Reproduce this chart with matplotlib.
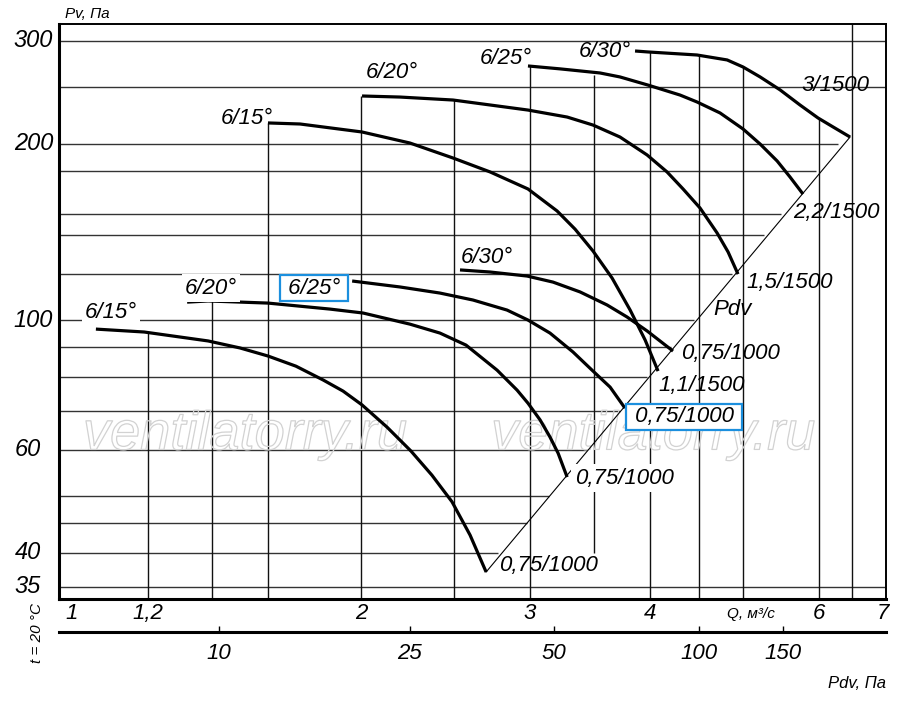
import numpy as np
import matplotlib
matplotlib.use('Agg')
import matplotlib.pyplot as plt
import matplotlib.patheffects as pe

plt.rcParams['font.family'] = ['Liberation Sans', 'DejaVu Sans']
plt.rcParams['font.style'] = 'italic'

# fan curves: Q (m3/s) and Pv (Pa)
q_15_1000 = [1.059, 1.189, 1.386, 1.496, 1.600, 1.711, 1.826, 1.916, 2.005, 2.129,
             2.255, 2.371, 2.488, 2.598, 2.700]
p_15_1000 = [96.5, 95.4, 92.1, 89.6, 86.8, 83.4, 79.0, 75.6, 71.6, 65.6,
             59.7, 54.3, 48.9, 42.9, 37.1]
q_20_1000 = [1.318, 1.386, 1.600, 1.857, 2.010, 2.249, 2.417, 2.573, 2.772, 2.908,
             2.985, 3.073, 3.147, 3.209, 3.279]
p_20_1000 = [107.3, 107.8, 106.9, 104.4, 102.8, 98.4, 95.0, 90.6, 82.1, 75.9,
             72.1, 67.5, 63.1, 59.2, 53.9]
q_25_1000 = [1.958, 2.196, 2.417, 2.616, 2.839, 2.985, 3.147, 3.325, 3.489, 3.635, 3.767]
p_25_1000 = [116.6, 113.9, 111.2, 108.2, 104.0, 100.0, 95.0, 88.2, 81.8, 76.8, 70.7]
q_30_1000 = [2.536, 2.726, 2.979, 3.170, 3.382, 3.609, 3.786, 3.972, 4.227]
p_30_1000 = [121.8, 120.8, 118.9, 116.1, 111.7, 106.1, 101.2, 95.8, 88.5]
q_15_1500 = [1.600, 1.728, 2.005, 2.249, 2.494, 2.726, 2.985, 3.201, 3.342, 3.489,
             3.652, 3.814, 3.954, 4.078]
p_15_1500 = [217.2, 216.3, 209.6, 200.7, 189.2, 179.1, 167.5, 153.6, 143.0, 131.2,
             118.0, 104.0, 92.4, 81.8]
q_20_1500 = [2.005, 2.196, 2.494, 2.985, 3.279, 3.489, 3.722, 3.972, 4.167, 4.330,
             4.510, 4.698, 4.824, 4.940]
p_20_1500 = [241.5, 240.5, 237.7, 228.5, 222.3, 215.4, 205.5, 191.5, 179.1, 167.5,
             155.4, 140.9, 130.7, 119.8]
q_25_1500 = [2.985, 3.224, 3.548, 3.722, 3.981, 4.299, 4.477, 4.732, 5.000, 5.209,
             5.426, 5.596, 5.773]
p_25_1500 = [271.8, 268.7, 264.4, 260.3, 252.1, 242.4, 235.9, 225.9, 212.1, 199.9,
             187.0, 175.6, 164.2]
q_30_1500 = [3.859, 3.981, 4.477, 4.813, 5.000, 5.209, 5.464, 5.732, 5.985, 6.205, 6.463]
p_30_1500 = [288.3, 287.2, 283.8, 278.3, 270.7, 260.3, 247.4, 233.1, 221.5, 213.8, 205.5]

# Pdv line end points
pdv_q = [2.70, 6.463]
pdv_p = [37.1, 205.5]

# grid (only inside the working field)
h_grid_p = [35, 40, 45, 50, 60, 70, 80, 90, 100, 120, 140, 152, 180, 200, 250, 300]
h_grid_q_end = [7.1, 2.78, 2.98, 3.14, 3.44, 3.72, 3.97, 4.21, 4.44, 4.87, 5.26, 5.48, 5.96, 6.28, 7.1, 7.1]
v_grid_q = [1.2, 1.4, 1.6, 2.0, 2.5, 3.0, 3.5, 4.0, 4.5, 5.0, 6.0, 6.5]
v_grid_p_top = [95.3, 107.8, 217.2, 241.5, 237.7, 271.8, 262.4, 287.2, 283.8, 270.7, 221.5, 330]
v_grid_p_bot = [33, 33, 33, 33, 33, 33, 40, 33, 33, 33, 33, 33]

# axis ticks
q_ticks = [1, 1.2, 2, 3, 4, 6, 7]
q_tick_labels = ['1', '1,2', '2', '3', '4', '6', '7']
p_ticks = [300, 200, 100, 60, 40, 35]
pdv_ticks = [10, 25, 50, 100, 150]
pdv_k = 4.95  # Pdv = k * Q^2 for the lower scale

# curve labels: text, Q, P, white backing
curve_labels = [
    ('6/15°', 1.098, 103.2, True),
    ('6/20°', 1.396, 113.4, True),
    ('6/30°', 2.706, 128.1, False),
    ('6/15°', 1.522, 220.6, False),
    ('6/20°', 2.154, 265.4, False),
    ('6/25°', 2.832, 280.4, False),
    ('6/30°', 3.591, 287.2, False),
    ('3/1500', 6.235, 252.1, False),
    ('2,2/1500', 6.250, 152.4, False),
    ('1,5/1500', 5.596, 115.7, False),
    ('Pdv', 4.881, 104.4, False),
    ('0,75/1000', 4.847, 87.8, False),
    ('1,1/1500', 4.532, 77.4, False),
    ('0,75/1000', 3.758, 53.7, True),
    ('0,75/1000', 3.132, 38.0, False),
]
boxed_labels = [
    ('6/25°', 1.787, 113.4),
    ('0,75/1000', 4.341, 68.3),
]
watermark_q = [1.514, 4.03]
watermark_p = 63.5

fig = plt.figure(figsize=(9, 7.04), dpi=100)
ax = fig.add_axes([59 / 900, 105 / 704, 827 / 900, 575 / 704])
ax.set_xscale('log')
ax.set_yscale('log')
xlim = (0.9693, 7.045)
ax.set_xlim(*xlim)
ax.set_ylim(33.36, 320.6)

ax.hlines(h_grid_p, xlim[0], h_grid_q_end, color='#333333', lw=1.0, zorder=1)
ax.vlines(v_grid_q, v_grid_p_bot, v_grid_p_top, color='#111111', lw=1.0, zorder=1)

for qw in watermark_q:
    ax.text(qw, watermark_p, 'ventilatorry.ru', fontsize=39, color='none',
            ha='center', va='center', zorder=2,
            path_effects=[pe.Stroke(linewidth=0.9, foreground='#d2d2d2')])

ax.plot(pdv_q, pdv_p, color='black', lw=0.8, zorder=3)

curves = [(q_15_1000, p_15_1000), (q_20_1000, p_20_1000), (q_25_1000, p_25_1000),
          (q_30_1000, p_30_1000), (q_15_1500, p_15_1500), (q_20_1500, p_20_1500),
          (q_25_1500, p_25_1500), (q_30_1500, p_30_1500)]
for q, p in curves:
    ax.plot(q, p, color='black', lw=2.3, solid_joinstyle='round',
            solid_capstyle='butt', zorder=4)

for txt, q, p, white in curve_labels:
    kw = {}
    if white:
        kw['bbox'] = dict(boxstyle='square,pad=0.15', facecolor='white', edgecolor='none')
    ax.text(q, p, txt, fontsize=16, ha='center', va='center', zorder=5, **kw)

for txt, q, p in boxed_labels:
    ax.text(q, p, ' ' + txt + ' ', fontsize=16, ha='center', va='center', zorder=6,
            bbox=dict(boxstyle='square,pad=0.1', facecolor='white',
                      edgecolor='#1b8fde', lw=1.6))

# axes frame
for side in ['left', 'bottom']:
    ax.spines[side].set_linewidth(2.2)
for side in ['top', 'right']:
    ax.spines[side].set_linewidth(1.4)

ax.xaxis.set_minor_locator(matplotlib.ticker.NullLocator())
ax.yaxis.set_minor_locator(matplotlib.ticker.NullLocator())
ax.set_xticks(q_ticks, q_tick_labels, fontsize=16)
ax.tick_params(axis='x', length=0, pad=3)
ax.set_yticks([])
for p in p_ticks:
    off = -0.007 if p >= 100 else -0.022
    ax.text(off, p, str(p), transform=ax.get_yaxis_transform(), fontsize=17,
            ha='right', va='center')

# lower Pdv scale
sec = ax.secondary_xaxis(-33 / 575, functions=(lambda q: pdv_k * np.square(q),
                                                lambda pv: np.sqrt(np.maximum(pv, 1e-9) / pdv_k)))
sec.spines['bottom'].set_linewidth(2.2)
sec.set_xticks(pdv_ticks, [str(v) for v in pdv_ticks], fontsize=16)
sec.xaxis.set_minor_locator(matplotlib.ticker.NullLocator())
sec.tick_params(axis='x', direction='in', length=4, width=1.0, pad=8)

fig.text(65 / 900, 1 - 14 / 704, 'Pv, Па', fontsize=11, ha='left', va='center')
fig.text(751 / 900, 1 - 614 / 704, 'Q, м³/с', fontsize=11, ha='center', va='center')
fig.text(886 / 900, 1 - 684 / 704, 'Pdv, Па', fontsize=12, ha='right', va='center')
fig.text(37 / 900, 1 - 633 / 704, 't = 20 °C', fontsize=11, rotation=90,
         ha='center', va='center')

fig.savefig('out.png', dpi=100)
